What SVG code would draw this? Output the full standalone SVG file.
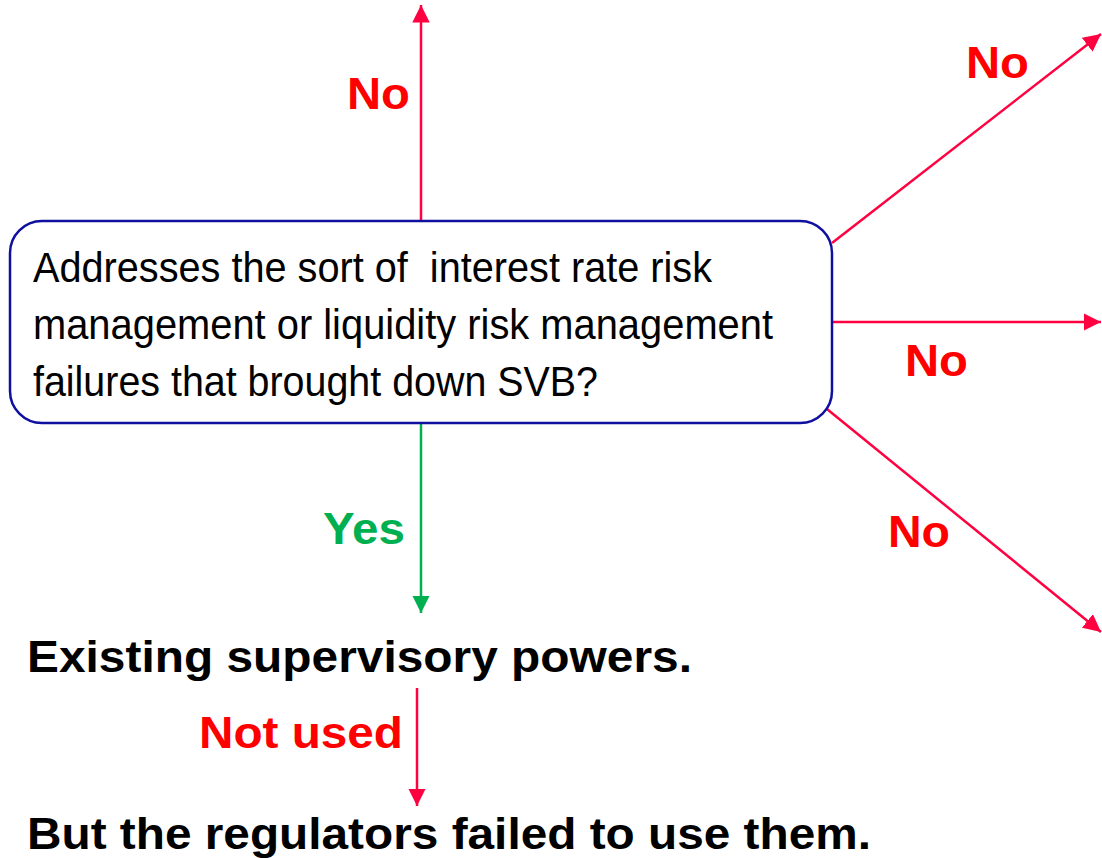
<svg xmlns="http://www.w3.org/2000/svg" width="1102" height="858" viewBox="0 0 1102 858">
<style>
.lbl{font-family:"Liberation Sans",Arial,sans-serif;font-weight:bold;font-size:45px}
.red{fill:#FF0000}
.grn{fill:#00B050}
.body{font-family:"Liberation Sans",Arial,sans-serif;font-size:43px;fill:#000}
.big{font-family:"Liberation Sans",Arial,sans-serif;font-weight:bold;font-size:45px;fill:#000}
.rl{stroke:#FF0040;stroke-width:2.5;fill:none}
.gl{stroke:#00B050;stroke-width:2.5;fill:none}
</style>
<defs>
<marker id="ar" viewBox="0 0 10 10" refX="10" refY="5" markerWidth="7" markerHeight="7" markerUnits="strokeWidth" orient="auto"><path d="M0,0 L10,5 L0,10 z" fill="#FF0040"/></marker>
<marker id="ag" viewBox="0 0 10 10" refX="10" refY="5" markerWidth="7" markerHeight="7" markerUnits="strokeWidth" orient="auto"><path d="M0,0 L10,5 L0,10 z" fill="#00B050"/></marker>
</defs>
<g id="connectors">
<line class="rl" x1="421" y1="221" x2="421" y2="5" marker-end="url(#ar)"/>
<line class="rl" x1="832" y1="243" x2="1101" y2="34" marker-end="url(#ar)"/>
<line class="rl" x1="832" y1="322" x2="1101" y2="322" marker-end="url(#ar)"/>
<line class="rl" x1="822" y1="405" x2="1101" y2="632" marker-end="url(#ar)"/>
<line class="gl" x1="421" y1="423" x2="421" y2="613" marker-end="url(#ag)"/>
<line class="rl" x1="417" y1="688" x2="417" y2="806" marker-end="url(#ar)"/>
<text class="lbl red" x="347" y="109" textLength="63" lengthAdjust="spacingAndGlyphs">No</text>
<text class="lbl red" x="966" y="78" textLength="63" lengthAdjust="spacingAndGlyphs">No</text>
<text class="lbl red" x="905" y="376" textLength="63" lengthAdjust="spacingAndGlyphs">No</text>
<text class="lbl red" x="888" y="547" textLength="62" lengthAdjust="spacingAndGlyphs">No</text>
<text class="lbl grn" x="323" y="544" textLength="82" lengthAdjust="spacingAndGlyphs">Yes</text>
<text class="lbl red" x="199" y="748" textLength="204" lengthAdjust="spacingAndGlyphs">Not used</text>
</g>
<g id="question">
<rect x="10" y="221" width="822" height="202" rx="32" ry="32" fill="#fff" stroke="#1010A0" stroke-width="2.5"/>
<text class="body" x="33" y="282" xml:space="preserve" textLength="679" lengthAdjust="spacingAndGlyphs">Addresses the sort of  interest rate risk</text>
<text class="body" x="33" y="339" textLength="740" lengthAdjust="spacingAndGlyphs">management or liquidity risk management</text>
<text class="body" x="33" y="396" textLength="565" lengthAdjust="spacingAndGlyphs">failures that brought down SVB?</text>
</g>
<g id="existing">
<text class="big" x="27" y="672" textLength="665" lengthAdjust="spacingAndGlyphs">Existing supervisory powers.</text>
</g>
<g id="failed">
<text class="big" x="27" y="849" textLength="844" lengthAdjust="spacingAndGlyphs">But the regulators failed to use them.</text>
</g>
</svg>
